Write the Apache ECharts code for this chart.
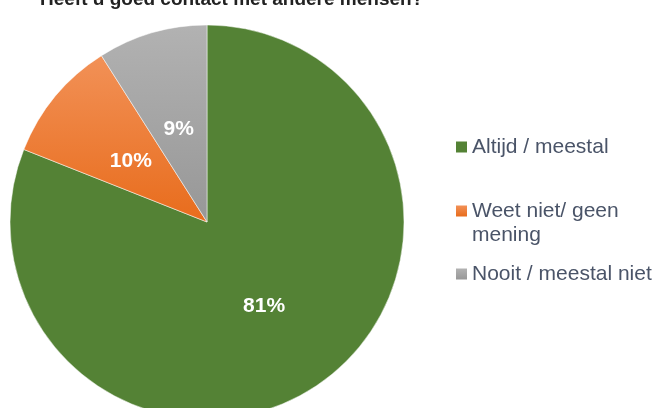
<!DOCTYPE html>
<html>
<head>
<meta charset="utf-8">
<script src="https://cdn.jsdelivr.net/npm/echarts@6/dist/echarts.min.js"></script>
<style>
  html, body { margin: 0; padding: 0; background: #fff; }
  #chart { width: 655px; height: 408px; }
</style>
</head>
<body>
<div id="chart"></div>
<script>
var titleText = 'Heeft u goed contact met andere mensen?';
var categories = ['Altijd / meestal', 'Weet niet/ geen\nmening', 'Nooit / meestal niet'];
var values = [81, 10, 9];

var chart = echarts.init(document.getElementById('chart'));

var colors = [
  '#548235',
  new echarts.graphic.LinearGradient(0, 0, 0, 1, [
    { offset: 0, color: '#f29157' },
    { offset: 1, color: '#e86c1c' }
  ]),
  new echarts.graphic.LinearGradient(0, 0, 0, 1, [
    { offset: 0, color: '#b2b2b2' },
    { offset: 1, color: '#979797' }
  ])
];
// small nudges so the labels sit like in the original
var labelOffsets = [[0, 0], [2, 4], [0, 5]];

var data = categories.map(function (name, i) {
  return {
    name: name,
    value: values[i],
    itemStyle: { color: colors[i] },
    label: { offset: labelOffsets[i] }
  };
});

// one legend per entry so each can sit where the original has it;
// the leading blank line keeps the square next to the first text line
function legendAt(i, top, padTop) {
  return {
    data: [categories[i]],
    orient: 'vertical',
    left: 456,
    top: top,
    padding: 0,
    itemWidth: 11,
    itemHeight: 11,
    itemGap: 0,
    icon: 'rect',
    itemStyle: { borderWidth: 0 },
    formatter: function (name) {
      return padTop ? '\n' + name : name;
    },
    textStyle: {
      fontFamily: 'Liberation Sans',
      fontSize: 21,
      color: '#4a5468',
      lineHeight: 24
    }
  };
}

var option = {
  animation: false,
  title: {
    text: titleText,
    left: 40,
    top: -10,
    padding: 0,
    textStyle: {
      fontFamily: 'Liberation Sans',
      fontSize: 19,
      fontWeight: 'bold',
      color: '#222222'
    }
  },
  legend: [
    legendAt(0, 135, false),
    legendAt(1, 175, true),
    legendAt(2, 262, false)
  ],
  series: [
    {
      type: 'pie',
      center: [207, 222],
      radius: [0, 197],
      startAngle: 90,
      clockwise: true,
      silent: true,
      itemStyle: { borderColor: '#ffffff', borderWidth: 0.5 },
      label: {
        show: true,
        position: 'inner',
        formatter: '{c}%',
        fontFamily: 'Liberation Sans',
        fontSize: 21,
        fontWeight: 'bold',
        color: '#ffffff'
      },
      labelLine: { show: false },
      data: data
    }
  ]
};

chart.setOption(option);
window.addEventListener('resize', function () {
  chart.resize();
});
</script>
</body>
</html>
